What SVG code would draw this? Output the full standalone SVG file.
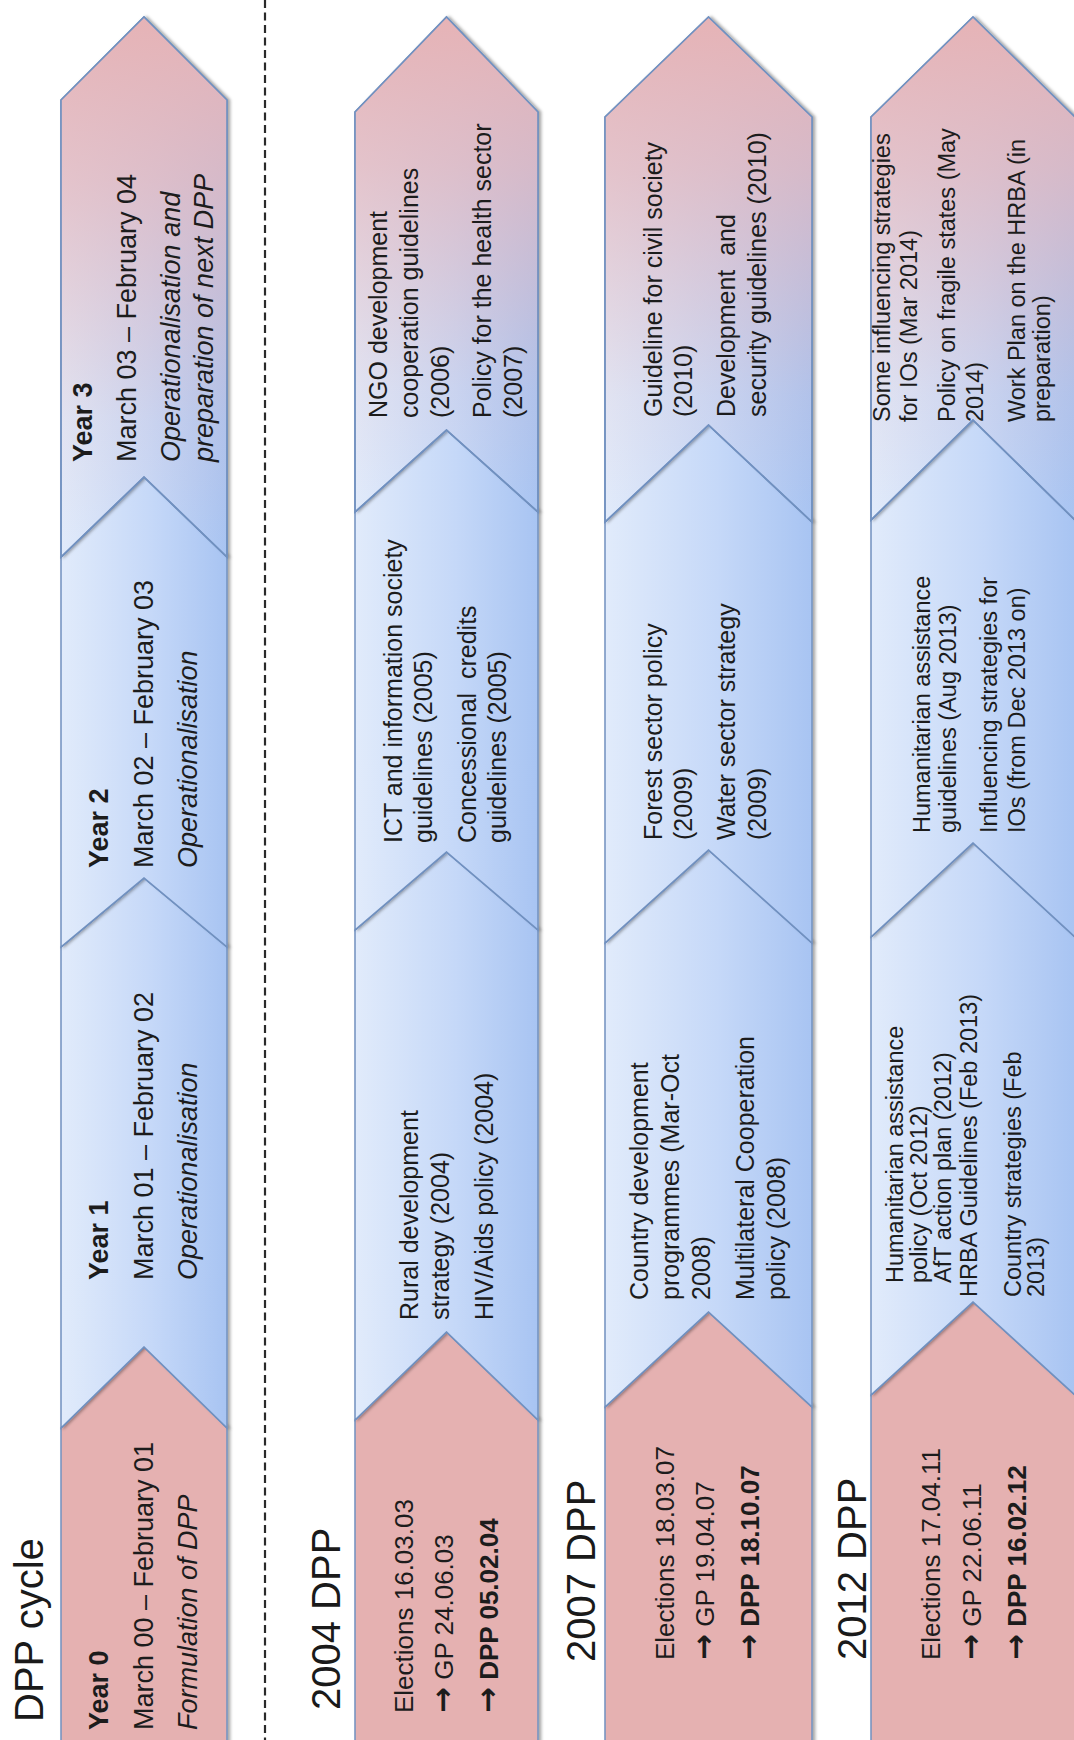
<svg xmlns="http://www.w3.org/2000/svg" width="1074" height="1740" viewBox="0 0 1074 1740">
<defs>
<style>
.t{font-family:"Liberation Sans",Arial,sans-serif;fill:#1c1c1c}
.title{font-size:40px;fill:#1a1a1a}
.s1{font-size:27px}
.sr{font-size:26px}
.sb{font-size:25px}
.s4{font-size:23.5px}
.bd{font-weight:bold}
.it{font-style:italic}
.ar{font-family:"DejaVu Sans",sans-serif;font-size:31px;font-weight:bold}
.seg{stroke:#7191C0;stroke-width:1.6;stroke-linejoin:miter;filter:url(#sh)}
.red{fill:#E5B1B1}
.blue{fill:url(#gBlue)}
.pinkfade{fill:url(#gPink);stroke:none}
.outline{fill:none;stroke:#7191C0;stroke-width:1.6}
</style>
<linearGradient id="gBlue" x1="0" y1="0" x2="0" y2="1">
<stop offset="0" stop-color="#E1EBFB"/>
<stop offset="0.55" stop-color="#C5D8F8"/>
<stop offset="1" stop-color="#A8C4F2"/>
</linearGradient>
<linearGradient id="gPink" x1="0" y1="0" x2="1" y2="0">
<stop offset="0" stop-color="#E5B6BB" stop-opacity="0"/>
<stop offset="0.25" stop-color="#E5B6BB" stop-opacity="0.15"/>
<stop offset="0.7" stop-color="#E5B6BB" stop-opacity="0.75"/>
<stop offset="1" stop-color="#E6B3B6" stop-opacity="1"/>
</linearGradient>
<filter id="sh" x="-5%" y="-10%" width="110%" height="130%">
<feDropShadow dx="0" dy="2.5" stdDeviation="1.8" flood-color="#000" flood-opacity="0.35"/>
</filter>
</defs>
<rect width="1074" height="1740" fill="#ffffff"/>
<g id="separator">
<line x1="265" y1="0" x2="265" y2="1740" stroke="#2a2a2a" stroke-width="2.2" stroke-dasharray="8 4.5"/>
</g>
<g id="connectors"/>
<g id="diagram" transform="translate(0,1740) rotate(-90)">
<g id="title-cycle"><text class="t title" x="18" y="43">DPP cycle</text></g>
<g id="title-2004"><text class="t title" x="30" y="340">2004 DPP</text></g>
<g id="title-2007"><text class="t title" x="78" y="595">2007 DPP</text></g>
<g id="title-2012"><text class="t title" x="80" y="866">2012 DPP</text></g>

<!-- Band 1: DPP cycle -->
<g id="cycle-year0">
<path class="seg red" d="M-5,61 L312,61 L393,144 L312,227 L-5,227 Z"/>
<text class="t s1 bd" x="10" y="108">Year 0</text>
<text class="t s1" x="10" y="153">March 00 – February 01</text>
<text class="t s1 it" x="10" y="197">Formulation of DPP</text>
</g>
<g id="cycle-year1">
<path class="seg blue" d="M312,61 L793,61 L862,144 L793,227 L312,227 L393,144 Z"/>
<text class="t s1 bd" x="460" y="108">Year 1</text>
<text class="t s1" x="460" y="153">March 01 – February 02</text>
<text class="t s1 it" x="460" y="197">Operationalisation</text>
</g>
<g id="cycle-year2">
<path class="seg blue" d="M793,61 L1183,61 L1263,144 L1183,227 L793,227 L862,144 Z"/>
<text class="t s1 bd" x="872" y="108">Year 2</text>
<text class="t s1" x="872" y="153">March 02 – February 03</text>
<text class="t s1 it" x="872" y="197">Operationalisation</text>
</g>
<g id="cycle-year3">
<path class="seg blue" d="M1183,61 L1640,61 L1723,144 L1640,227 L1183,227 L1263,144 Z"/>
<path class="pinkfade" d="M1183,61 L1640,61 L1723,144 L1640,227 L1183,227 L1263,144 Z"/>
<path class="outline" d="M1183,61 L1640,61 L1723,144 L1640,227 L1183,227 L1263,144 Z"/>
<text class="t s1 bd" x="1278" y="92">Year 3</text>
<text class="t s1" x="1278" y="136">March 03 – February 04</text>
<text class="t s1 it" x="1278" y="180">Operationalisation and</text>
<text class="t s1 it" x="1278" y="213">preparation of next DPP</text>
</g>

<!-- Band 2: 2004 DPP -->
<g id="dpp2004-red">
<path class="seg red" d="M-5,355 L320,355 L408,446.5 L320,538 L-5,538 Z"/>
<text class="t sr" x="27" y="413">Elections 16.03.03</text>
<text class="t sr" x="27" y="453"><tspan class="ar">→</tspan> GP 24.06.03</text>
<text class="t sr bd" x="27" y="498"><tspan class="ar">→</tspan> DPP 05.02.04</text>
</g>
<g id="dpp2004-year1">
<path class="seg blue" d="M320,355 L810,355 L888,446.5 L810,538 L320,538 L408,446.5 Z"/>
<text class="t sb" x="420" y="418">Rural development</text>
<text class="t sb" x="420" y="449">strategy (2004)</text>
<text class="t sb" x="420" y="493">HIV/Aids policy (2004)</text>
</g>
<g id="dpp2004-year2">
<path class="seg blue" d="M810,355 L1228,355 L1310,446.5 L1228,538 L810,538 L888,446.5 Z"/>
<text class="t sb" x="897" y="402">ICT and information society</text>
<text class="t sb" x="897" y="432">guidelines (2005)</text>
<text class="t sb" x="897" y="476" xml:space="preserve">Concessional  credits</text>
<text class="t sb" x="897" y="506">guidelines (2005)</text>
</g>
<g id="dpp2004-year3">
<path class="seg blue" d="M1228,355 L1628,355 L1723,446.5 L1628,538 L1228,538 L1310,446.5 Z"/>
<path class="pinkfade" d="M1228,355 L1628,355 L1723,446.5 L1628,538 L1228,538 L1310,446.5 Z"/>
<path class="outline" d="M1228,355 L1628,355 L1723,446.5 L1628,538 L1228,538 L1310,446.5 Z"/>
<text class="t sb" x="1322" y="387">NGO development</text>
<text class="t sb" x="1322" y="418">cooperation guidelines</text>
<text class="t sb" x="1322" y="449">(2006)</text>
<text class="t sb" x="1322" y="491">Policy for the health sector</text>
<text class="t sb" x="1322" y="522">(2007)</text>
</g>

<!-- Band 3: 2007 DPP -->
<g id="dpp2007-red">
<path class="seg red" d="M-5,605 L333,605 L428,708.5 L333,812 L-5,812 Z"/>
<text class="t sr" x="80" y="674">Elections 18.03.07</text>
<text class="t sr" x="80" y="714"><tspan class="ar">→</tspan> GP 19.04.07</text>
<text class="t sr bd" x="80" y="759"><tspan class="ar">→</tspan> DPP 18.10.07</text>
</g>
<g id="dpp2007-year1">
<path class="seg blue" d="M333,605 L797,605 L890,708.5 L797,812 L333,812 L428,708.5 Z"/>
<text class="t sb" x="440" y="648">Country development</text>
<text class="t sb" x="440" y="679">programmes (Mar-Oct</text>
<text class="t sb" x="440" y="710">2008)</text>
<text class="t sb" x="440" y="754">Multilateral Cooperation</text>
<text class="t sb" x="440" y="785">policy (2008)</text>
</g>
<g id="dpp2007-year2">
<path class="seg blue" d="M797,605 L1218,605 L1315,708.5 L1218,812 L797,812 L890,708.5 Z"/>
<text class="t sb" x="900" y="662">Forest sector policy</text>
<text class="t sb" x="900" y="692">(2009)</text>
<text class="t sb" x="900" y="735">Water sector strategy</text>
<text class="t sb" x="900" y="766">(2009)</text>
</g>
<g id="dpp2007-year3">
<path class="seg blue" d="M1218,605 L1623,605 L1723,708.5 L1623,812 L1218,812 L1315,708.5 Z"/>
<path class="pinkfade" d="M1218,605 L1623,605 L1723,708.5 L1623,812 L1218,812 L1315,708.5 Z"/>
<path class="outline" d="M1218,605 L1623,605 L1723,708.5 L1623,812 L1218,812 L1315,708.5 Z"/>
<text class="t sb" x="1323" y="662">Guideline for civil society</text>
<text class="t sb" x="1323" y="692">(2010)</text>
<text class="t sb" x="1323" y="735" xml:space="preserve">Development  and</text>
<text class="t sb" x="1323" y="766">security guidelines (2010)</text>
</g>

<!-- Band 4: 2012 DPP -->
<g id="dpp2012-red">
<path class="seg red" d="M-5,871 L345,871 L438,973 L345,1075 L-5,1075 Z"/>
<text class="t sr" x="80" y="940">Elections 17.04.11</text>
<text class="t sr" x="80" y="981"><tspan class="ar">→</tspan> GP 22.06.11</text>
<text class="t sr bd" x="80" y="1026"><tspan class="ar">→</tspan> DPP 16.02.12</text>
</g>
<g id="dpp2012-year1">
<path class="seg blue" d="M345,871 L803,871 L897,973 L803,1075 L345,1075 L438,973 Z"/>
<text class="t s4" x="457" y="903">Humanitarian assistance</text>
<text class="t s4" x="457" y="927">policy (Oct 2012)</text>
<text class="t s4" x="457" y="951">AfT action plan (2012)</text>
<text class="t s4" x="443" y="977">HRBA Guidelines (Feb 2013)</text>
<text class="t s4" x="443" y="1021">Country strategies (Feb</text>
<text class="t s4" x="443" y="1044">2013)</text>
</g>
<g id="dpp2012-year2">
<path class="seg blue" d="M803,871 L1220,871 L1320,973 L1220,1075 L803,1075 L897,973 Z"/>
<text class="t s4" x="907" y="930">Humanitarian assistance</text>
<text class="t s4" x="907" y="956">guidelines (Aug 2013)</text>
<text class="t s4" x="907" y="997">Influencing strategies for</text>
<text class="t s4" x="907" y="1025">IOs (from Dec 2013 on)</text>
</g>
<g id="dpp2012-year3">
<path class="seg blue" d="M1220,871 L1623,871 L1723,973 L1623,1075 L1220,1075 L1320,973 Z"/>
<path class="pinkfade" d="M1220,871 L1623,871 L1723,973 L1623,1075 L1220,1075 L1320,973 Z"/>
<path class="outline" d="M1220,871 L1623,871 L1723,973 L1623,1075 L1220,1075 L1320,973 Z"/>
<text class="t s4" x="1318" y="890">Some influencing strategies</text>
<text class="t s4" x="1318" y="917">for IOs (Mar 2014)</text>
<text class="t s4" x="1318" y="955">Policy on fragile states (May</text>
<text class="t s4" x="1318" y="983">2014)</text>
<text class="t s4" x="1318" y="1025">Work Plan on the HRBA (in</text>
<text class="t s4" x="1318" y="1050">preparation)</text>
</g>
</g>
</svg>
